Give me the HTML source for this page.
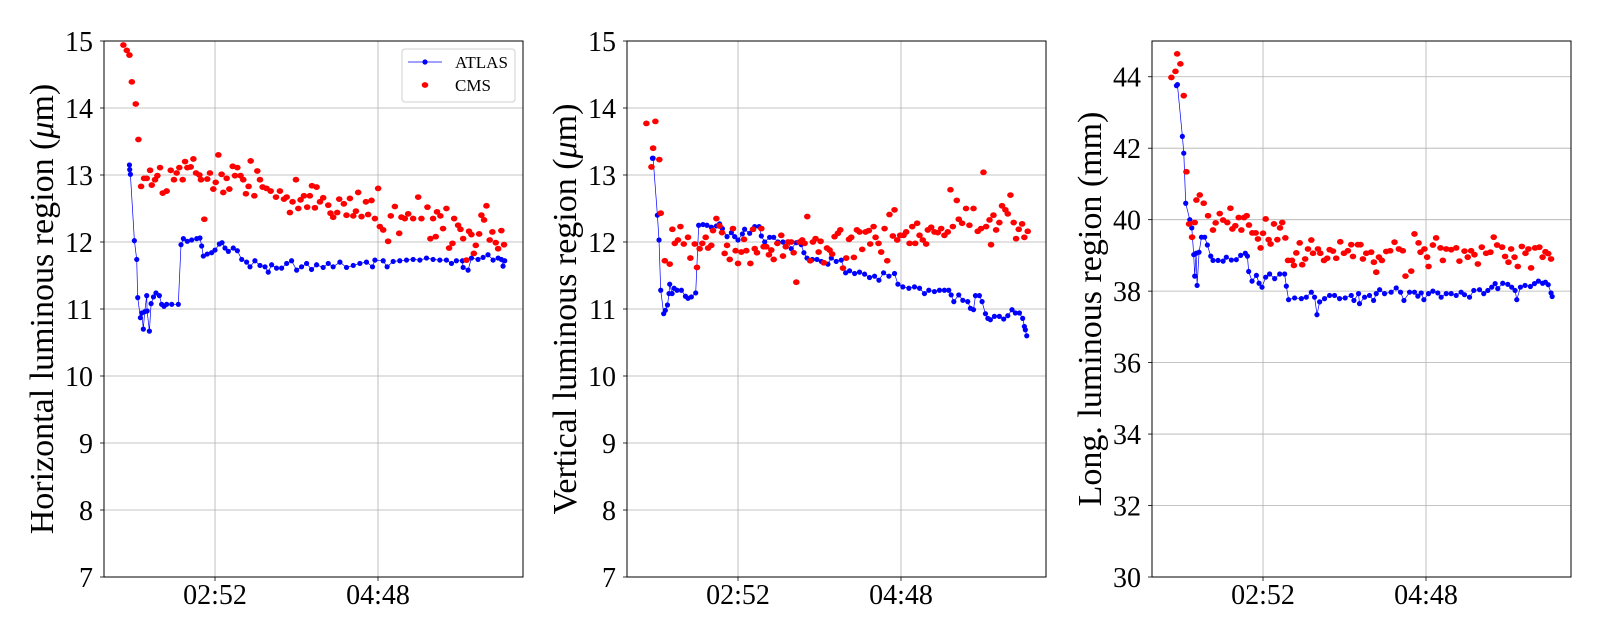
<!DOCTYPE html>
<html><head><meta charset="utf-8"><style>
html,body{margin:0;padding:0;background:#fff;}
svg{display:block;font-family:"Liberation Serif",serif;}
</style></head><body>
<svg id="chart" width="1600" height="640" viewBox="0 0 1600 640" xmlns="http://www.w3.org/2000/svg"></svg>
<script>
const xTickMinutes = [172, 288];
const xTickLabels = ["02:52", "04:48"];
const yTicksTransverse = [7,8,9,10,11,12,13,14,15];
const yTicksLong = [30,32,34,36,38,40,42,44];

const atlasH = [[111.1,13.15],[111.3,13.08],[111.8,13.01],[114.6,12.02],[116.3,11.74],[117,11.17],[118.9,10.87],[119.9,10.94],[121,10.7],[122,10.96],[123.4,11.2],[123.7,10.97],[125.3,10.67],[126.5,11.08],[128.2,11.18],[130,11.24],[132.4,11.2],[134,11.07],[135.7,11.04],[137.6,11.07],[141.2,11.07],[145.9,11.07],[147.8,11.96],[149.5,12.05],[152.3,12.01],[155.4,12.03],[159,12.05],[161.3,12.06],[162.5,11.94],[163.7,11.79],[166.5,11.82],[169.6,11.84],[172,11.88],[175.1,11.97],[177,11.99],[179.1,11.91],[181.5,11.86],[185,11.91],[187.9,11.87],[191,11.74],[194.5,11.7],[196.9,11.63],[200.4,11.72],[204,11.65],[207.6,11.63],[209.9,11.55],[212.3,11.66],[215.8,11.61],[219.4,11.61],[223,11.68],[226.5,11.72],[230.1,11.58],[233.6,11.63],[237.2,11.68],[240.7,11.59],[244.3,11.66],[249,11.62],[252.6,11.68],[256.1,11.63],[260.9,11.7],[265.6,11.62],[270.4,11.65],[275.1,11.68],[279.8,11.7],[284.1,11.63],[285.8,11.73],[291.7,11.72],[294.5,11.63],[298.8,11.71],[303.5,11.72],[308.3,11.73],[313,11.74],[317.8,11.73],[322.5,11.76],[327.2,11.74],[332,11.73],[336.7,11.73],[340.3,11.68],[343.8,11.72],[348.1,11.72],[348.6,11.62],[352.1,11.58],[354.5,11.76],[359.2,11.74],[362.8,11.77],[366.3,11.81],[369.9,11.73],[373.5,11.76],[375.8,11.74],[377,11.64],[378.2,11.72]];
const cmsH = [[106.8,14.94],[109.2,14.86],[111.1,14.79],[112.8,14.39],[115.6,14.06],[117.5,13.53],[119.4,12.83],[121.5,12.95],[123.4,12.95],[125.8,13.07],[127,12.85],[129.3,12.93],[131,12.99],[132.9,13.11],[134.8,12.73],[137.6,12.76],[140.5,13.07],[142.8,12.93],[144.7,13.03],[146.6,13.11],[149,12.93],[150.7,13.2],[152.3,13.11],[154.7,13.12],[156.6,13.24],[158.5,13.03],[160.9,13],[162,12.93],[164.4,12.34],[166.5,12.94],[168.4,13.03],[170.8,12.79],[172.5,12.89],[174.4,13.3],[176.7,13.01],[177.9,12.74],[180.3,12.95],[182.2,12.79],[184.6,13.13],[186.2,12.99],[187.9,13.11],[190.2,12.99],[192.1,12.93],[194,12.72],[195.9,12.83],[197.4,13.21],[200,12.69],[202.1,13.06],[204,12.93],[205.9,12.82],[208.7,12.8],[211.6,12.76],[215.4,12.67],[218.2,12.76],[221.1,12.64],[223,12.67],[225.3,12.44],[227.2,12.6],[229.6,12.93],[231.3,12.5],[232.9,12.63],[235.3,12.69],[237.6,12.52],[239.5,12.69],[241,12.84],[243.1,12.51],[244.3,12.82],[246.7,12.6],[249,12.66],[252.6,12.55],[254.2,12.43],[256.1,12.37],[259,12.44],[260.4,12.64],[263.7,12.57],[265.6,12.4],[268,12.65],[270.4,12.39],[272.3,12.46],[273.9,12.74],[276.3,12.38],[279.4,12.6],[281,12.41],[283.4,12.62],[285.8,12.35],[288.1,12.8],[289.3,12.23],[291.7,12.18],[295.2,12.01],[297.1,12.39],[300,12.53],[303.1,12.13],[304.7,12.37],[307.1,12.35],[309.5,12.42],[313,12.35],[316.6,12.67],[318.9,12.35],[323.2,12.52],[325.3,12.05],[327.2,12.35],[329.1,12.08],[330,12.45],[332.4,12.39],[334.3,12.2],[336.7,12.5],[338.6,11.91],[341,11.98],[342.2,12.35],[345,12.25],[346.7,12.19],[348.6,12.05],[351,11.73],[352.8,12.16],[354.5,12.11],[356.2,11.83],[357.6,11.95],[360,12.12],[361.6,12.4],[363.5,12.33],[365.2,12.54],[367.5,12.03],[369.4,12.15],[371.8,11.99],[373.5,11.9],[375.8,12.17],[377.7,11.96]];

const atlasV = [[111.1,13.25],[111.6,13.25],[114.6,12.4],[115.8,12.03],[117,11.28],[119.1,10.93],[120.3,10.98],[121.8,11.06],[122.9,11.23],[123.4,11.37],[125.1,11.23],[126.5,11.31],[128.6,11.28],[131.7,11.28],[134.6,11.19],[136.4,11.16],[138.8,11.18],[141.9,11.24],[144,12.25],[147.1,12.26],[149.9,12.25],[153,12.22],[156.6,12.24],[158.9,12.27],[160.9,12.2],[164.2,12.08],[167.3,12.14],[169.6,12.08],[172,12.03],[175.1,12.12],[176.7,12.19],[180.3,12.13],[183.9,12.23],[187,12.23],[188.6,12.09],[191,12],[194.5,12.07],[197.4,12.07],[200.4,12],[204,12],[207.6,12],[209.9,11.9],[213.5,11.99],[217,11.96],[218.9,11.84],[221.1,11.76],[224.9,11.74],[228.2,11.74],[231.3,11.71],[236,11.67],[238.4,11.76],[241.9,11.71],[245.5,11.73],[248.6,11.54],[251.4,11.57],[255,11.53],[258.5,11.55],[262.1,11.52],[265.6,11.47],[269.2,11.49],[272.3,11.43],[275.6,11.54],[279.4,11.49],[283.4,11.53],[285.8,11.37],[289.3,11.33],[293.6,11.31],[297.6,11.33],[301.2,11.31],[304.7,11.23],[307.8,11.28],[311.8,11.26],[315.4,11.28],[318.9,11.28],[322,11.28],[323.7,11.21],[325.6,11.11],[329.1,11.21],[332,11.13],[335.5,11.11],[337.4,11.01],[339.6,10.99],[341,11.2],[343.8,11.2],[345.7,11.11],[348.1,10.93],[349.8,10.86],[351.6,10.84],[354.5,10.89],[358,10.89],[361.1,10.85],[364,10.9],[367,10.99],[369.4,10.94],[372.3,10.94],[374.6,10.86],[375.8,10.74],[376.5,10.69],[377.5,10.6]];
const cmsV = [[106.8,13.77],[110.4,13.12],[111.6,13.4],[113.2,13.8],[116,13.23],[117,12.43],[119.9,11.72],[123.4,11.67],[125.3,12.19],[127,11.98],[129.3,12.03],[131,12.23],[133.4,11.97],[136.4,12.07],[138.1,11.76],[141.2,11.97],[142.8,11.62],[144.7,11.9],[146.6,11.98],[149,12.07],[150.7,11.91],[153,11.95],[154.2,12.17],[156.6,12.35],[158.9,12.24],[160.6,12.14],[162.5,11.83],[164.2,11.95],[166.1,11.74],[168.4,12.2],[170.3,11.87],[172,11.68],[174.4,11.85],[176.3,12.04],[177.9,11.87],[180.8,11.68],[182.7,12.19],[183.9,11.9],[185.5,11.84],[188.6,12.2],[190.2,11.93],[192.1,11.93],[194,11.81],[195.7,11.88],[197.4,11.74],[200,11.98],[202.8,12.1],[204,11.79],[206,11.93],[207.6,12],[209.9,12],[211.6,11.84],[213.5,11.4],[215.8,12],[217.7,12.03],[219.4,11.98],[221.3,12.38],[223.4,11.72],[225.3,12],[227.2,12.05],[229.4,11.85],[230.8,12.01],[233.1,11.69],[235.3,11.91],[237.2,11.88],[239,11.82],[240.7,12.08],[243.1,12.13],[244.8,12.18],[246.7,11.61],[249,11.76],[251,12.04],[252.6,12.07],[254.5,11.77],[256.6,12.18],[258.5,12.15],[260.4,11.89],[262.8,12.15],[265.1,12.17],[266.1,11.97],[268.5,12.23],[269.9,12.07],[272,11.98],[273.9,11.85],[276.3,12.2],[278.2,11.72],[279.8,12.41],[282.2,12.09],[283.4,12.48],[285.3,12.03],[287.4,12.1],[289.8,12.1],[291.7,12.15],[294.1,11.98],[296,12.23],[298.1,11.98],[299.5,12.28],[301.2,12.1],[303.5,12.03],[305.9,11.97],[307.1,12.18],[309.5,12.22],[311.8,12.15],[314.2,12.14],[316.6,12.2],[318.9,12.1],[321.3,12.15],[323.2,12.78],[324.9,12.23],[327.7,12.62],[329.1,12.34],[331.5,12.28],[334.3,12.5],[336.7,12.25],[339.6,12.5],[342.6,12.16],[345,12.2],[346.7,13.04],[348.6,12.23],[351,12.33],[352.1,11.96],[353.8,12.4],[355.7,12.18],[358,12.29],[359.9,12.54],[362.3,12.48],[364,12.42],[365.9,12.7],[368.2,12.29],[369.9,12.05],[371.8,12.19],[374.2,12.27],[375.8,12.07],[378.2,12.16]];

const atlasL = [[110.4,43.75],[111.1,43.78],[114.6,42.33],[115.6,41.86],[117,40.46],[119.9,40],[121.3,39.77],[122.7,39.02],[123.4,38.42],[124.4,39.06],[125.1,38.16],[126.5,39.09],[128.2,39.51],[130.5,39.51],[132.4,39.29],[134.8,38.98],[136.4,38.86],[140,38.86],[143.6,38.84],[145.9,38.95],[149.5,38.87],[153,38.88],[156.1,39],[159.4,39.06],[160.9,38.98],[161.8,38.55],[164.2,38.28],[167.3,38.44],[169.2,38.22],[171.3,38.11],[173.9,38.39],[176.7,38.48],[180.3,38.35],[183.9,38.48],[187.4,38.48],[188.6,38.14],[190.2,37.76],[194.5,37.81],[199.3,37.79],[202.8,37.83],[206.4,37.97],[208.7,37.83],[210.4,37.34],[212.3,37.7],[215.8,37.79],[219.4,37.88],[222.9,37.88],[226.5,37.79],[230.5,37.81],[234.8,37.88],[236.7,37.74],[240,37.93],[240.7,37.65],[244.3,37.83],[247.8,37.88],[250.7,37.74],[252.6,37.93],[255,38.04],[258.5,37.93],[263.2,37.97],[266.8,38.09],[269.9,37.97],[272.3,37.74],[276.3,37.97],[279.8,37.97],[282.2,37.86],[284.6,37.95],[286.5,37.76],[289.8,37.93],[292.9,38],[296.4,37.95],[298.8,37.83],[302.4,37.93],[305.9,37.93],[309.5,37.88],[313,37.97],[315.4,37.9],[319,37.83],[322,38.02],[326.1,38.04],[329.1,37.93],[332,38.02],[334.8,38.11],[337.2,38.21],[339.1,38.07],[342.6,38.22],[346.2,38.19],[349,38.11],[351.4,38.02],[352.6,37.76],[355.2,38.11],[358.5,38.16],[362.3,38.13],[365.2,38.21],[368,38.28],[371,38.22],[373,38.25],[375,38.18],[377,37.95],[377.8,37.85]];
const cmsL = [[106.8,43.98],[109.7,44.15],[110.9,44.64],[113.2,44.36],[115.6,43.47],[117.5,41.34],[119.4,39.88],[121.5,39.51],[123.4,39.92],[124.6,40.55],[127,40.69],[129.8,40.46],[132.9,40.11],[136.4,39.71],[138.3,39.91],[141.2,40.17],[143.6,39.99],[146.6,39.92],[148.8,40.32],[150.2,39.74],[152.3,39.83],[154.7,40.06],[156.6,39.71],[158.5,40.06],[160.4,40.11],[162,39.85],[164.4,39.63],[166.8,39.63],[168.4,39.46],[170.3,39.21],[172,39.62],[173.9,40.02],[176,39.44],[177.4,39.32],[179.8,39.88],[182.2,39.44],[184.1,39.77],[185.7,39.92],[187.9,39.49],[189.8,38.86],[192.6,38.86],[194,38.72],[195.7,39.07],[198.1,39.35],[199.9,38.74],[202,38.9],[204,39.18],[206.4,39.43],[207.6,39.06],[211.1,39.18],[212.8,39.06],[215.4,38.86],[217.7,38.92],[219.4,39.16],[221.8,39.12],[224.1,38.92],[227,39.38],[229.6,39.06],[232.4,39.13],[234.8,39.3],[236,38.97],[239.5,39.3],[241.4,39.3],[243.1,38.9],[245.5,39.06],[249,39.09],[250.9,38.81],[252.6,38.53],[254.5,38.95],[256.6,38.86],[259.7,39.11],[262.5,39.13],[265.6,39.37],[268.7,39.18],[271.5,39.13],[273.4,38.42],[277.5,38.56],[279.8,39.6],[282.7,39.35],[284.1,39.09],[286.9,39.18],[288.8,38.95],[289.8,38.69],[292.9,39.29],[295.2,39.49],[298.3,39.21],[300,38.86],[302.4,39.18],[305.9,39.16],[309.5,39.21],[311.8,38.84],[315.4,39.12],[317.7,38.95],[320.1,39.13],[322.5,39.02],[324.9,38.76],[327.7,39.23],[330.8,39.06],[333.9,39.09],[336.2,39.51],[338.6,39.29],[342.2,39.23],[344.3,38.97],[346.7,38.81],[348.6,39.18],[351,38.95],[353.3,38.69],[356.2,39.25],[358.8,39.06],[360.9,39.18],[362.8,38.65],[365.6,39.21],[368.7,39.23],[371,38.95],[373,39.1],[375,39.05],[377,38.9]];

const svg = document.getElementById('chart');
const NS = 'http://www.w3.org/2000/svg';
function mk(tag, attrs, parent){
  const e = document.createElementNS(NS, tag);
  for (const k in attrs) e.setAttribute(k, attrs[k]);
  (parent||svg).appendChild(e);
  return e;
}
const T0 = 93.0, T1 = 391.2, TOP = 41, BOT = 577, W = 419;

function panel(opt){
  const L = opt.left, R = L + W;
  const xs = t => L + (t - T0) / (T1 - T0) * W;
  const ys = v => BOT - (v - opt.ymin) / (opt.ymax - opt.ymin) * (BOT - TOP);
  const g = mk('g', {});
  
  
  opt.yticks.forEach(v => {
    const y = ys(v);
    const gl = mk('line', {x1:L, x2:R, y1:y, y2:y, stroke:'#b0b0b0', 'stroke-width':0.8}, g);
    
    
    const tk = mk('line', {x1:L-4, x2:L, y1:y, y2:y, stroke:'#000', 'stroke-width':0.8}, g);
    
    
    const tx = mk('text', {x:L-11, y:y+10, 'text-anchor':'end', 'font-size':28, fill:'#000'}, g);
    tx.textContent = v;
    
    
  });
  xTickMinutes.forEach((t, i) => {
    const x = xs(t);
    const gl = mk('line', {x1:x, x2:x, y1:TOP, y2:BOT, stroke:'#b0b0b0', 'stroke-width':0.8}, g);
    
    
    const tk = mk('line', {x1:x, x2:x, y1:BOT, y2:BOT+4, stroke:'#000', 'stroke-width':0.8}, g);
    
    
    const tx = mk('text', {x:x, y:BOT+27, 'text-anchor':'middle', 'font-size':28, fill:'#000'}, g);
    tx.textContent = xTickLabels[i];
    
    
  });
  const pts = opt.atlas.map(p => xs(p[0]).toFixed(1) + ',' + ys(p[1]).toFixed(1)).join(' ');
  const pl = mk('polyline', {points:pts, fill:'none', stroke:'#0000ff', 'stroke-width':0.7}, g);
  
  
  opt.atlas.forEach(p => {
    const c = mk('circle', {cx:xs(p[0]), cy:ys(p[1]), r:2.6, fill:'#0000ff'}, g);
    
    
  });
  opt.cms.forEach(p => {
    const c = mk('ellipse', {cx:xs(p[0]), cy:ys(p[1]), rx:3.3, ry:2.9, fill:'#ff0000'}, g);
    
    
  });
  const fr = mk('rect', {x:L, y:TOP, width:W, height:BOT-TOP, fill:'none', stroke:'#000', 'stroke-width':1}, g);
  
  
  const cy = (TOP + BOT) / 2;
  const yl = mk('text', {x:opt.labelX, y:cy, 'text-anchor':'middle', 'font-size':34, fill:'#000', transform:`rotate(-90 ${opt.labelX} ${cy})`}, g);
  
  
  yl.appendChild(document.createTextNode(opt.label));
  if (opt.unitMu) {
    yl.appendChild(document.createTextNode('('));
    const mu = mk('tspan', {'font-style':'italic'}, yl);
    mu.textContent = '\u03bc';
    yl.appendChild(document.createTextNode('m)'));
  }
}

panel({name:'horizontal-panel', left:104, ymin:7, ymax:15, yticks:yTicksTransverse, atlas:atlasH, cms:cmsH, label:'Horizontal luminous region ', unitMu:true, labelX:53});
panel({name:'vertical-panel', left:627, ymin:7, ymax:15, yticks:yTicksTransverse, atlas:atlasV, cms:cmsV, label:'Vertical luminous region ', unitMu:true, labelX:576});
panel({name:'longitudinal-panel', left:1152, ymin:30, ymax:45, yticks:yTicksLong, atlas:atlasL, cms:cmsL, label:'Long. luminous region (mm)', unitMu:false, labelX:1101});

const lg = mk('g', {});


const lb = mk('rect', {x:402, y:49, width:113, height:53, rx:3, fill:'#fff', 'fill-opacity':0.8, stroke:'#d0d0d0', 'stroke-width':1}, lg);


const ll = mk('line', {x1:408, x2:442, y1:62, y2:62, stroke:'#0000ff', 'stroke-width':0.8}, lg);


const lm = mk('circle', {cx:425, cy:62, r:2.6, fill:'#0000ff'}, lg);


const lt1 = mk('text', {x:455, y:68, 'font-size':17, fill:'#000'}, lg);
lt1.textContent = 'ATLAS';


const lm2 = mk('ellipse', {cx:425, cy:85, rx:3.3, ry:2.9, fill:'#ff0000'}, lg);


const lt2 = mk('text', {x:455, y:91, 'font-size':17, fill:'#000'}, lg);
lt2.textContent = 'CMS';


</script>
</body></html>
